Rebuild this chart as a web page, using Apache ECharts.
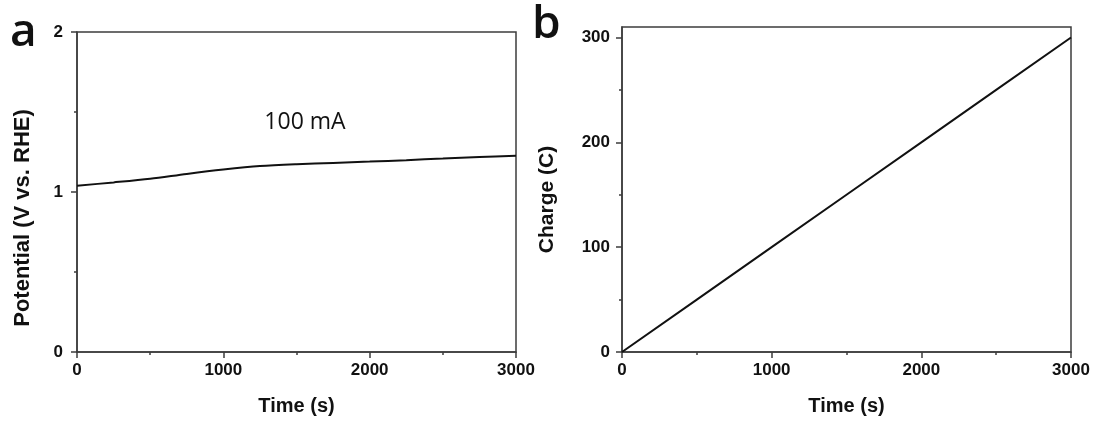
<!DOCTYPE html>
<html>
<head>
<meta charset="utf-8">
<script src="https://cdn.jsdelivr.net/npm/echarts@6/dist/echarts.min.js"></script>
<style>
html,body{margin:0;padding:0;background:#fff;}
#c{width:1096px;height:421px;}
</style>
</head>
<body>
<div id="c"></div>
<script>
// Panel a: potential vs time at 100 mA
const timeA = [0, 250, 500, 750, 1000, 1250, 1500, 1750, 2000, 2250, 2500, 2750, 3000];
const potentialA = [1.039, 1.060, 1.083, 1.113, 1.140, 1.162, 1.174, 1.182, 1.190, 1.199, 1.209, 1.219, 1.227];
// Panel b: charge vs time
const timeB = [0, 500, 1000, 1500, 2000, 2500, 3000];
const chargeB = [0, 50, 100, 150, 200, 250, 300];
const yTicksB = [0, 100, 200, 300];
const yMinorB = [50, 150, 250];

const axisColor = '#3c3c3c';
const labelFont = {fontFamily: 'Liberation Sans, Arial, sans-serif', fontWeight: 'bold', fontSize: 17, color: '#111'};
const nameFont = {fontFamily: 'Liberation Sans, Arial, sans-serif', fontWeight: 'bold', fontSize: 20, color: '#111'};
const plain = v => String(v);

function xAxisDef(gi) {
  return {
    gridIndex: gi, type: 'value', min: 0, max: 3000, interval: 1000,
    name: 'Time (s)', nameLocation: 'middle', nameGap: 44, nameTextStyle: nameFont,
    axisLine: {show: true, lineStyle: {color: axisColor, width: 1.5}},
    axisTick: {show: true, inside: false, length: 6, lineStyle: {color: axisColor, width: 1.5}},
    minorTick: {show: true, splitNumber: 2, length: 3, lineStyle: {color: axisColor, width: 1.5}},
    axisLabel: Object.assign({margin: 10, formatter: plain}, labelFont),
    splitLine: {show: false}
  };
}

const pts = (xs, ys) => xs.map((x, i) => [x, ys[i]]);

const option = {
  backgroundColor: '#ffffff',
  animation: false,
  grid: [
    {left: 77, top: 32, width: 439, height: 320, show: true, borderColor: axisColor, borderWidth: 1.5, backgroundColor: 'transparent'},
    {left: 622, top: 27, width: 449, height: 326, show: true, borderColor: axisColor, borderWidth: 1.5, backgroundColor: 'transparent'}
  ],
  xAxis: [xAxisDef(0), xAxisDef(1)],
  yAxis: [
    {
      gridIndex: 0, type: 'value', min: 0, max: 2, interval: 1,
      name: 'Potential (V vs. RHE)', nameLocation: 'middle', nameGap: 43,
      nameTextStyle: Object.assign({}, nameFont, {fontSize: 22, padding: [0, 0, 0, -52]}),
      axisLine: {show: true, lineStyle: {color: axisColor, width: 1.5}},
      axisTick: {show: true, length: 6, lineStyle: {color: axisColor, width: 1.5}},
      minorTick: {show: true, splitNumber: 2, length: 3, lineStyle: {color: axisColor, width: 1.5}},
      axisLabel: Object.assign({margin: 14, formatter: plain}, labelFont),
      splitLine: {show: false}
    },
    {
      gridIndex: 1, type: 'value', min: 0, max: 310,
      name: 'Charge (C)', nameLocation: 'middle', nameGap: 64,
      nameTextStyle: Object.assign({}, nameFont, {fontSize: 21, padding: [0, 0, 0, -20]}),
      axisLine: {show: true, lineStyle: {color: axisColor, width: 1.5}},
      axisTick: {show: true, length: 6, customValues: yTicksB, lineStyle: {color: axisColor, width: 1.5}},
      axisLabel: Object.assign({margin: 12, customValues: yTicksB, formatter: plain}, labelFont),
      splitLine: {show: false}
    },
    {
      gridIndex: 1, type: 'value', min: 0, max: 310, position: 'left',
      axisLine: {show: false},
      axisTick: {show: true, length: 3, customValues: yMinorB, lineStyle: {color: axisColor, width: 1.5}},
      axisLabel: {show: false},
      splitLine: {show: false}
    }
  ],
  series: [
    {
      type: 'line', xAxisIndex: 0, yAxisIndex: 0, data: pts(timeA, potentialA),
      smooth: 0.3, showSymbol: false, lineStyle: {color: '#111', width: 2}
    },
    {
      type: 'line', xAxisIndex: 1, yAxisIndex: 1, data: pts(timeB, chargeB),
      showSymbol: false, lineStyle: {color: '#111', width: 2}
    }
  ],
  graphic: [
    {type: 'text', left: 10, top: 10, style: {text: 'a', font: '600 46px "Open Sans", sans-serif', fill: '#111'}},
    {type: 'text', left: 532, top: 2, style: {text: 'b', font: '600 46px "Open Sans", sans-serif', fill: '#111'}},
    {type: 'text', x: 305, y: 122, style: {text: '100 mA', font: '23px "Open Sans", sans-serif', fill: '#111', align: 'center', verticalAlign: 'middle'}}
  ]
};

const chart = echarts.init(document.getElementById('c'), null, {renderer: 'canvas'});
chart.setOption(option);
</script>
</body>
</html>
